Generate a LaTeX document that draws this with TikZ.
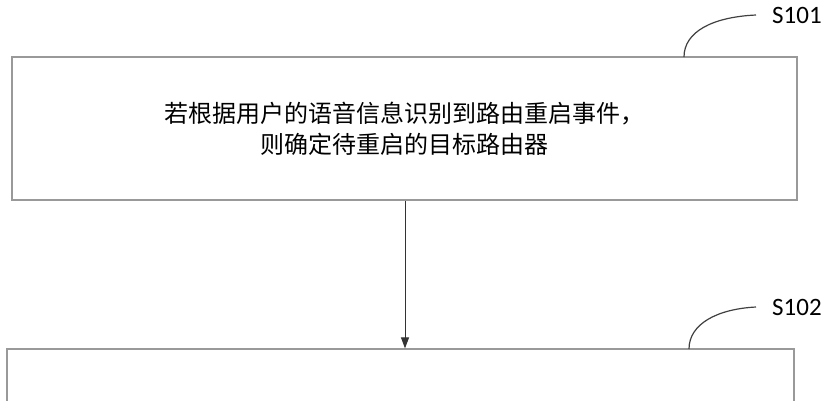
\documentclass[tikz,border=0pt]{standalone}
\usepackage{fontspec}
\setmainfont{Carlito}
\newfontfamily\cjk{Noto Sans CJK SC}
\usepackage{xcolor}
\usetikzlibrary{arrows.meta, positioning, calc}

\begin{document}
\begin{tikzpicture}[
	  x=1pt, y=-1pt,
	  box/.style={
	    draw=black!40,
	    line width=1.2pt,
	    align=center,
	    inner sep=0pt,
	    font=\cjk\fontsize{24}{31}\selectfont
	  },
	  arrow/.style={-{Triangle[length=11pt,width=8pt]}, draw=black!45, line width=1pt, color=black!80},
	  lead/.style={draw=black!75, line width=1.2pt},
	  steplabel/.style={anchor=west, inner sep=0pt, font=\fontsize{25}{27}\selectfont}
	]
	
	\useasboundingbox (0,0) rectangle (827,400);
	\clip (0,0) rectangle (827,400);
	
	\node[box, minimum width=785pt, minimum height=143pt] (step1) at (404.5,128.5)
	  {若根据用户的语音信息识别到路由重启事件，\\则确定待重启的目标路由器};
	\node[box, minimum width=787pt, minimum height=142pt] (step2) at (400.5,420) {};
	
	\draw[arrow] (step1.south -| 405,0) -- (405,0 |- step2.north);
	
	\node[steplabel] (s101) at (772,15) {S101};
	\node[steplabel] (s102) at (772,307) {S102};
	
	\draw[lead] (684,57) .. controls (684,32) and (712,17) .. ([xshift=-16pt]s101.west);
	\draw[lead] (689,349) .. controls (689,324) and (717,309) .. ([xshift=-16pt]s102.west);
	
	\end{tikzpicture}
\end{document}
